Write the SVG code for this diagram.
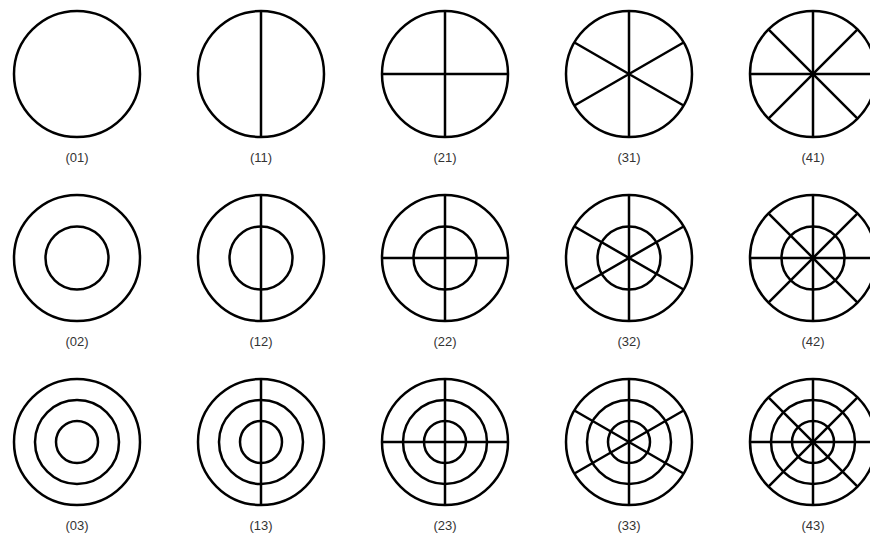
<svg xmlns="http://www.w3.org/2000/svg" width="870" height="537" viewBox="0 0 870 537">
<style>
.c{fill:none;stroke:#000;stroke-width:2.5}
.s{stroke:#000;stroke-width:2.5;fill:none}
.t{font-family:"Liberation Sans",Arial,sans-serif;font-size:13px;fill:#333;text-anchor:middle}
</style>
<defs>
<g id="o"><circle class="c" r="63"/></g>
<path id="v" class="s" d="M0,-63V63"/>
<path id="h" class="s" d="M-63,0H63"/>
<path id="d30" class="s" d="M-54.56,-31.5L54.56,31.5M-54.56,31.5L54.56,-31.5"/>
<path id="d45" class="s" d="M-44.55,-44.55L44.55,44.55M-44.55,44.55L44.55,-44.55"/>
</defs>
<rect width="870" height="537" fill="#fff"/>
<g id="n01" transform="translate(77,74)"><use href="#o"/></g>
<g id="n11" transform="translate(261,74)"><use href="#o"/><use href="#v"/></g>
<g id="n21" transform="translate(445,74)"><use href="#o"/><use href="#v"/><use href="#h"/></g>
<g id="n31" transform="translate(629,74)"><use href="#o"/><use href="#v"/><use href="#d30"/></g>
<g id="n41" transform="translate(813,74)"><use href="#o"/><use href="#v"/><use href="#h"/><use href="#d45"/></g>

<g id="n02" transform="translate(77,258)"><use href="#o"/><circle class="c" r="31.5"/></g>
<g id="n12" transform="translate(261,258)"><use href="#o"/><circle class="c" r="31.5"/><use href="#v"/></g>
<g id="n22" transform="translate(445,258)"><use href="#o"/><circle class="c" r="31.5"/><use href="#v"/><use href="#h"/></g>
<g id="n32" transform="translate(629,258)"><use href="#o"/><circle class="c" r="31.5"/><use href="#v"/><use href="#d30"/></g>
<g id="n42" transform="translate(813,258)"><use href="#o"/><circle class="c" r="31.5"/><use href="#v"/><use href="#h"/><use href="#d45"/></g>

<g id="n03" transform="translate(77,442)"><use href="#o"/><circle class="c" r="42"/><circle class="c" r="21"/></g>
<g id="n13" transform="translate(261,442)"><use href="#o"/><circle class="c" r="42"/><circle class="c" r="21"/><use href="#v"/></g>
<g id="n23" transform="translate(445,442)"><use href="#o"/><circle class="c" r="42"/><circle class="c" r="21"/><use href="#v"/><use href="#h"/></g>
<g id="n33" transform="translate(629,442)"><use href="#o"/><circle class="c" r="42"/><circle class="c" r="21"/><use href="#v"/><use href="#d30"/></g>
<g id="n43" transform="translate(813,442)"><use href="#o"/><circle class="c" r="42"/><circle class="c" r="21"/><use href="#v"/><use href="#h"/><use href="#d45"/></g>

<g id="labels">
<text class="t" x="77" y="162">(01)</text>
<text class="t" x="261" y="162">(11)</text>
<text class="t" x="445" y="162">(21)</text>
<text class="t" x="629" y="162">(31)</text>
<text class="t" x="813" y="162">(41)</text>
<text class="t" x="77" y="346">(02)</text>
<text class="t" x="261" y="346">(12)</text>
<text class="t" x="445" y="346">(22)</text>
<text class="t" x="629" y="346">(32)</text>
<text class="t" x="813" y="346">(42)</text>
<text class="t" x="77" y="530">(03)</text>
<text class="t" x="261" y="530">(13)</text>
<text class="t" x="445" y="530">(23)</text>
<text class="t" x="629" y="530">(33)</text>
<text class="t" x="813" y="530">(43)</text>
</g>
<g id="connectors"/>
</svg>
